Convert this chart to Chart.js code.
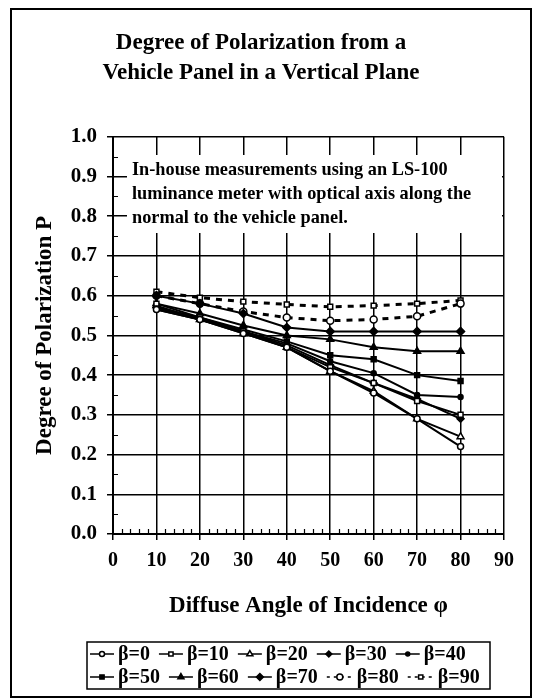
<!DOCTYPE html>
<html>
<head>
<meta charset="utf-8">
<script src="https://cdn.jsdelivr.net/npm/chart.js@4/dist/chart.umd.min.js"></script>
<style>
  html, body { margin: 0; padding: 0; background: #fff; }
</style>
</head>
<body>
<canvas id="chart" width="548" height="700"></canvas>
<script>
// angulos de incidencia (eixo x)
const angles = [10, 20, 30, 40, 50, 60, 70, 80];

// grau de polarizacao P para cada beta
const p_b0  = [0.565, 0.540, 0.505, 0.470, 0.410, 0.355, 0.290, 0.220];
const p_b10 = [0.580, 0.545, 0.510, 0.470, 0.420, 0.380, 0.335, 0.300];
const p_b20 = [0.575, 0.540, 0.505, 0.470, 0.410, 0.360, 0.290, 0.245];
const p_b30 = [0.570, 0.540, 0.510, 0.475, 0.425, 0.380, 0.340, 0.290];
const p_b40 = [0.565, 0.540, 0.510, 0.480, 0.435, 0.405, 0.350, 0.345];
const p_b50 = [0.570, 0.545, 0.515, 0.485, 0.450, 0.440, 0.400, 0.385];
const p_b60 = [0.580, 0.555, 0.525, 0.500, 0.490, 0.470, 0.460, 0.460];
const p_b70 = [0.600, 0.580, 0.555, 0.520, 0.510, 0.510, 0.510, 0.510];
const p_b80 = [0.600, 0.580, 0.560, 0.545, 0.537, 0.540, 0.548, 0.580];
const p_b90 = [0.610, 0.595, 0.585, 0.578, 0.572, 0.575, 0.580, 0.588];

const seriesNames = ['β=0', 'β=10', 'β=20', 'β=30', 'β=40', 'β=50', 'β=60', 'β=70', 'β=80', 'β=90'];
const seriesValues = [p_b0, p_b10, p_b20, p_b30, p_b40, p_b50, p_b60, p_b70, p_b80, p_b90];

const titleLines = ['Degree of Polarization from a', 'Vehicle Panel in a Vertical Plane'];
const noteLines = [
    'In-house measurements using an LS-100',
    'luminance meter with optical axis along the',
    'normal to the vehicle panel.'
];

const SERIF = '"Liberation Serif", "Times New Roman", serif';

// estilo dos marcadores por serie
const markers = [
    { style: 'circle',   r: 3,   fill: '#fff' },
    { style: 'rect',     r: 3.5, fill: '#fff' },
    { style: 'triangle', r: 4,   fill: '#fff' },
    { style: 'rectRot',  r: 3.5, fill: '#000' },
    { style: 'circle',   r: 2.5, fill: '#000' },
    { style: 'rect',     r: 3.5, fill: '#000' },
    { style: 'triangle', r: 4,   fill: '#000' },
    { style: 'rectRot',  r: 4,   fill: '#000' },
    { style: 'circle',   r: 3.5, fill: '#fff' },
    { style: 'rect',     r: 3.5, fill: '#fff' }
];

const datasets = seriesValues.map((vals, i) => {
    const dashed = i >= 8;
    return {
        label: seriesNames[i],
        data: angles.map((a, k) => ({ x: a, y: vals[k] })),
        borderColor: '#000',
        borderWidth: dashed ? 3 : 2,
        borderDash: dashed ? [6, 6] : [],
        pointStyle: markers[i].style,
        pointRadius: markers[i].r,
        pointBackgroundColor: markers[i].fill,
        pointBorderColor: '#000',
        pointBorderWidth: 1.5,
        tension: 0,
        fill: false
    };
});

// desenhos extras: caixa de texto, ticks menores, moldura e legenda
const decorPlugin = {
    id: 'decor',
    beforeDatasetsDraw(chart) {
        const ctx = chart.ctx;
        const area = chart.chartArea;
        ctx.save();
        ctx.fillStyle = '#fff';
        ctx.fillRect(area.left + 14, 155, area.right - area.left - 16, 78);
        ctx.fillStyle = '#000';
        ctx.font = 'bold 18.3px ' + SERIF;
        ctx.textBaseline = 'middle';
        ctx.textAlign = 'left';
        noteLines.forEach((t, i) => ctx.fillText(t, area.left + 19, 170 + i * 24));
        ctx.restore();
    },
    afterDraw(chart) {
        const ctx = chart.ctx;
        const area = chart.chartArea;
        const xs = chart.scales.x;
        const ys = chart.scales.y;
        ctx.save();
        ctx.strokeStyle = '#000';

        // ticks menores
        ctx.lineWidth = 1.2;
        ctx.beginPath();
        for (let v = 0.05; v < 1; v += 0.1) {
            const py = Math.round(ys.getPixelForValue(v)) + 0.5;
            ctx.moveTo(area.left, py);
            ctx.lineTo(area.left + 5, py);
        }
        for (let v = 2; v < 90; v += 2) {
            if (v % 10 === 0) continue;
            const px = Math.round(xs.getPixelForValue(v)) + 0.5;
            ctx.moveTo(px, area.bottom);
            ctx.lineTo(px, area.bottom - 5);
        }
        ctx.stroke();

        // moldura externa
        ctx.lineWidth = 2;
        ctx.strokeRect(11, 9, 520, 688);

        // legenda (duas linhas de cinco itens)
        const rows = [[0, 1, 2, 3, 4], [5, 6, 7, 8, 9]];
        const rowY = [654, 677];
        ctx.lineWidth = 1.5;
        ctx.strokeRect(87, 642, 403, 47);
        ctx.font = 'bold 20px ' + SERIF;
        ctx.textBaseline = 'middle';
        rows.forEach((row, r) => {
            let x0 = 90;
            row.forEach(idx => {
                const ds = chart.data.datasets[idx];
                const y = rowY[r];
                const len = idx >= 8 ? 26 : 24;
                ctx.save();
                ctx.lineWidth = 1.5;
                ctx.setLineDash(idx >= 8 ? [3, 4] : []);
                ctx.beginPath();
                ctx.moveTo(x0, y);
                ctx.lineTo(x0 + len, y);
                ctx.stroke();
                ctx.restore();
                ctx.fillStyle = ds.pointBackgroundColor;
                ctx.strokeStyle = '#000';
                Chart.helpers.drawPoint(ctx, {
                    pointStyle: ds.pointStyle,
                    radius: Math.max(2, ds.pointRadius - 0.5),
                    rotation: 0,
                    borderWidth: 1
                }, x0 + len / 2, y);
                ctx.fillStyle = '#000';
                const tx = x0 + len + 4;
                ctx.fillText(ds.label, tx, y + 1);
                x0 = tx + ctx.measureText(ds.label).width + 9;
            });
        });
        ctx.restore();
    }
};

const chart = new Chart(document.getElementById('chart'), {
    type: 'line',
    data: { datasets: datasets },
    options: {
        responsive: false,
        animation: false,
        layout: { padding: { left: 18, right: 44, top: 0, bottom: 76 } },
        plugins: {
            legend: { display: false },
            tooltip: { enabled: false },
            title: {
                display: true,
                text: titleLines,
                color: '#000',
                font: { family: SERIF, size: 23, weight: 'bold', lineHeight: 1.3 },
                padding: { top: 28, bottom: 49 }
            }
        },
        scales: {
            x: {
                type: 'linear',
                min: 0,
                max: 90,
                afterFit: s => { s.height = 90; },
                ticks: {
                    stepSize: 10,
                    color: '#000',
                    padding: 9,
                    maxRotation: 0,
                    font: { family: SERIF, size: 20, weight: 'bold' }
                },
                grid: { color: '#000', lineWidth: 1.5, tickLength: 6 },
                border: { color: '#000', width: 2 },
                title: {
                    display: true,
                    text: 'Diffuse Angle of Incidence φ',
                    color: '#000',
                    font: { family: SERIF, size: 23, weight: 'bold', lineHeight: 1.2 },
                    padding: { top: 0, bottom: 4 }
                }
            },
            y: {
                min: 0,
                max: 1,
                afterFit: s => { s.width = 95; },
                ticks: {
                    stepSize: 0.1,
                    color: '#000',
                    padding: 10,
                    callback: v => Number(v).toFixed(1),
                    font: { family: SERIF, size: 21, weight: 'bold' }
                },
                grid: { color: '#000', lineWidth: 1.5, tickLength: 6 },
                border: { color: '#000', width: 2 },
                title: {
                    display: true,
                    text: 'Degree of Polarization P',
                    color: '#000',
                    font: { family: SERIF, size: 23, weight: 'bold', lineHeight: 1.2 },
                    padding: { top: 13, bottom: 0 }
                }
            }
        }
    },
    plugins: [decorPlugin]
});
</script>
</body>
</html>
